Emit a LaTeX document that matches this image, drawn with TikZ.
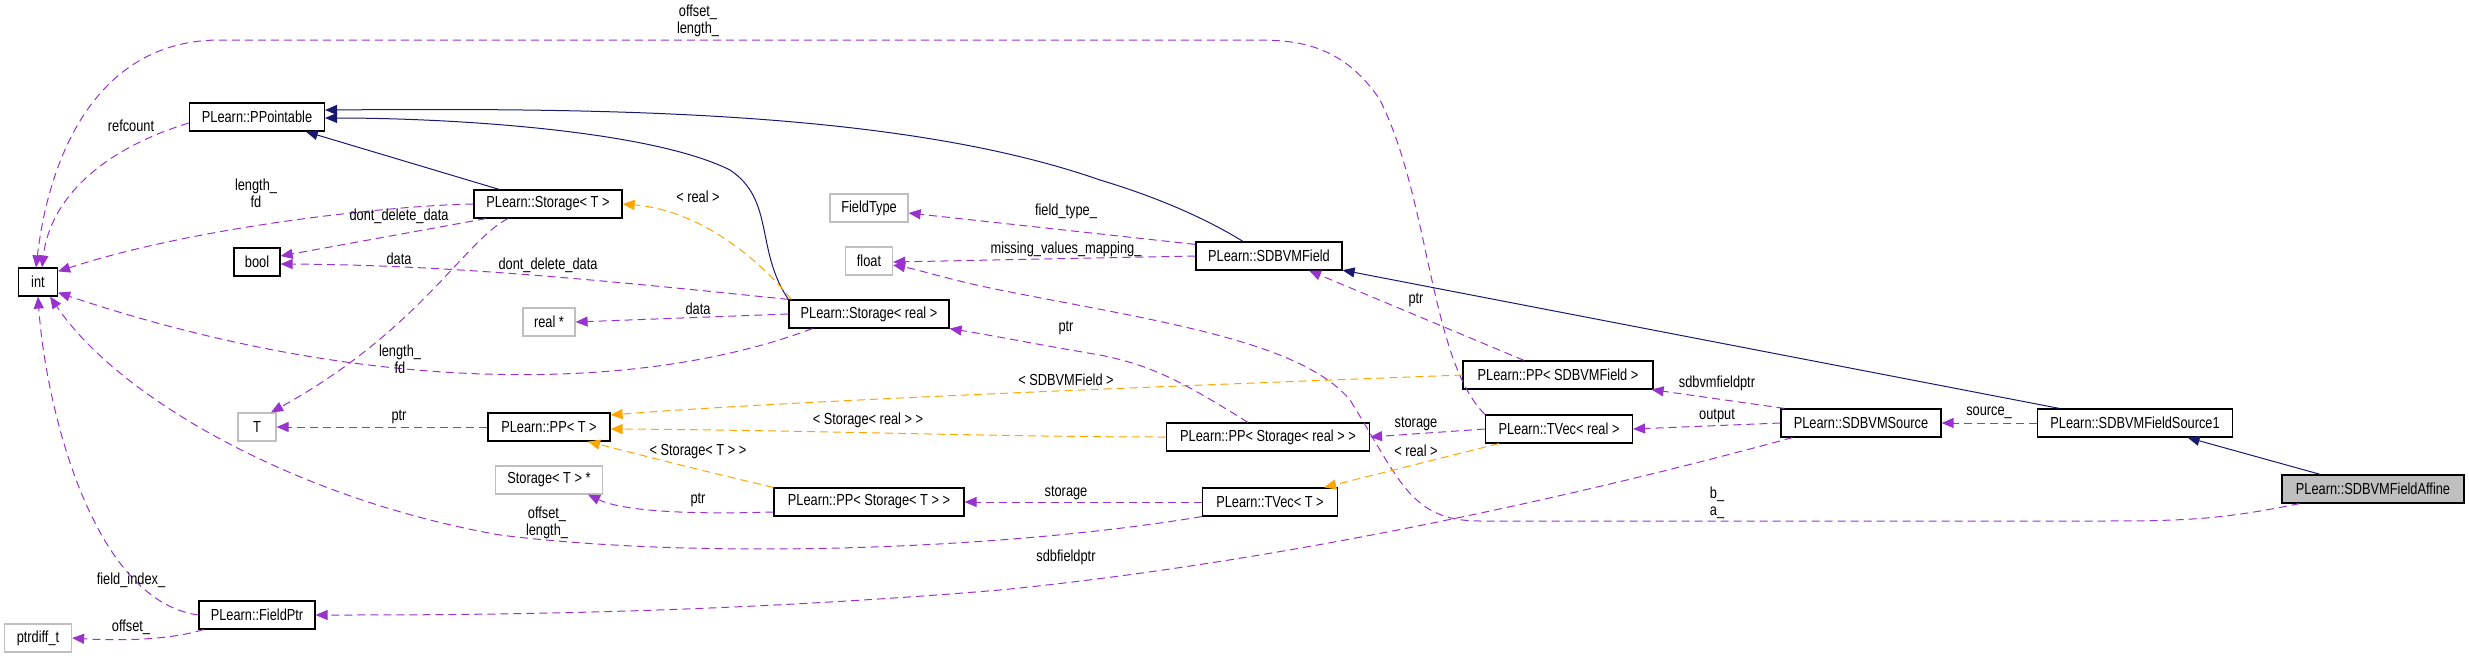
\documentclass[tikz,border=0pt]{standalone}
\usepackage{fontspec}
\setmainfont{Liberation Sans}[FakeStretch=0.8]
\usetikzlibrary{arrows.meta}
\begin{document}
\begin{tikzpicture}[x=0.5pt,y=-0.5pt,
  every node/.style={font=\fontsize{8}{8.5}\selectfont, inner sep=1pt},
  box/.style={draw=black, line width=0.6pt, minimum height=14pt, inner sep=1pt, fill=white},
  gbox/.style={box, draw=black!25},
  lab/.style={align=center},
  inh/.style={draw={rgb,255:red,25;green,25;blue,112}, line width=0.5pt, -{Triangle[length=6pt,width=5pt]}},
  use/.style={draw={rgb,255:red,154;green,50;blue,205}, line width=0.5pt, dash pattern=on 4pt off 2.5pt, -{Triangle[length=6pt,width=5pt]}},
  tpl/.style={draw={rgb,255:red,255;green,165;blue,0}, line width=0.5pt, dash pattern=on 4pt off 2.5pt, -{Triangle[length=6pt,width=5pt]}}]
\useasboundingbox (0,0) rectangle (2469,659);
% nodes
\node[box, minimum width=67.5pt] (pp) at (257,117) {PLearn::PPointable};
\node[box, minimum width=19.5pt] (int) at (38,282) {int};
\node[box, minimum width=74pt] (stT) at (548,204) {PLearn::Storage< T >};
\node[box, minimum width=23pt] (bool) at (257,262) {bool};
\node[gbox, minimum width=26pt] (realp) at (549,322) {real *};
\node[gbox, minimum width=19pt] (T) at (257,427) {T};
\node[box, minimum width=61pt] (ppT) at (549,427) {PLearn::PP< T >};
\node[gbox, minimum width=53.5pt] (stTp) at (549,480) {Storage< T > *};
\node[box, minimum width=58pt] (fptr) at (257,615) {PLearn::FieldPtr};
\node[gbox, minimum width=33.5pt] (ptrd) at (38,638) {ptrdiff\_t};
\node[gbox, minimum width=39pt] (ftype) at (869,208) {FieldType};
\node[gbox, minimum width=23.5pt] (float) at (869,261) {float};
\node[box, minimum width=73pt] (sfield) at (1269,256) {PLearn::SDBVMField};
\node[box, minimum width=80pt] (streal) at (869,314) {PLearn::Storage< real >};
\node[box, minimum width=95pt] (ppsf) at (1558,375) {PLearn::PP< SDBVMField >};
\node[box, minimum width=101.5pt] (ppsr) at (1268,437) {PLearn::PP< Storage< real > >};
\node[box, minimum width=73.5pt] (tvr) at (1559,429) {PLearn::TVec< real >};
\node[box, minimum width=95pt] (ppst) at (869,502) {PLearn::PP< Storage< T > >};
\node[box, minimum width=67.5pt] (tvT) at (1270,502) {PLearn::TVec< T >};
\node[box, minimum width=80pt] (src) at (1861,423) {PLearn::SDBVMSource};
\node[box, minimum width=97.5pt] (fs1) at (2135,423) {PLearn::SDBVMFieldSource1};
\node[box, minimum width=91pt, fill=black!25] (aff) at (2373,489) {PLearn::SDBVMFieldAffine};
% inheritance
\draw[inh] (stT) -- (pp);
\draw[inh] (streal.north west) .. controls (755,250) and (775,200) .. (730,170) .. controls (650,130) and (450,118) .. ([yshift=-0.5pt]pp.east);
\draw[inh] ([xshift=-13pt]sfield.north) .. controls (1200,215) and (1150,195) .. (1100,180) .. controls (900,110) and (600,108) .. ([yshift=3.5pt]pp.east);
\draw[inh] (fs1) -- (sfield);
\draw[inh] (aff) -- (fs1);
% usage
\draw[use] (stT.west) .. controls (400,205) and (200,225) .. ([yshift=-2pt]int.north east);
\draw[use] ([xshift=-31pt]stT.south) -- ([yshift=3pt]bool.east);
\draw[use] ([xshift=-20pt]stT.south) .. controls (465,240) and (420,330) .. ([xshift=7pt]T.north);
\draw[use] (streal.north west) .. controls (600,280) and (450,265) .. ([yshift=-1pt]bool.east);
\draw[use] (streal.west) -- (realp.east);
\draw[use] ([xshift=12pt]streal.south west) .. controls (650,390) and (380,400) .. ([yshift=2pt]int.south east);
\draw[tpl] ([xshift=1.5pt]streal.north west) .. controls (760,260) and (700,210) .. (stT.east);
\draw[use] ([yshift=-3pt]pp.west) .. controls (100,150) and (50,200) .. ([xshift=2pt]int.north);
\draw[use] (tvr.north west) .. controls (1430,360) and (1430,200) .. (1380,100) .. controls (1340,40) and (1290,40) .. (1250,40) -- (220,40) .. controls (100,40) and (50,150) .. ([xshift=-1pt]int.north);
\draw[use] (ppT) -- (T);
\draw[tpl] (ppst.north west) .. controls (700,470) .. ([xshift=19.5pt]ppT.south);
\draw[use] ([yshift=-5pt]ppst.west) .. controls (680,515) and (620,510) .. ([xshift=19.5pt]stTp.south);
\draw[use] (tvT.south west) .. controls (1000,550) and (700,560) .. (500,535) .. controls (300,500) and (120,400) .. ([xshift=-4pt]int.south east);
\draw[use] (fptr.west) .. controls (90,600) and (45,400) .. (int.south);
\draw[use] ([xshift=2.5pt]fptr.south west) .. controls (170,640) and (120,641) .. (ptrd.east);
\draw[use] ([xshift=6pt]src.south west) .. controls (1600,490) and (1300,560) .. (1000,590) .. controls (700,615) and (450,615) .. (fptr.east);
\draw[tpl] (ppsf.west) .. controls (1200,385) and (800,400) .. ([yshift=6pt]ppT.east);
\draw[tpl] (ppsr.west) .. controls (1000,437) and (800,430) .. ([yshift=-1pt]ppT.east);
\draw[use] ([xshift=-10pt]ppsr.north) .. controls (1180,380) and (1150,365) .. (1100,355) .. controls (1040,345) and (990,335) .. (streal.south east);
\draw[use] ([xshift=-17pt]ppsf.north) -- ([xshift=20pt]sfield.south);
\draw[use] ([yshift=-1.5pt]sfield.north west) -- ([yshift=-2.5pt]ftype.east);
\draw[use] (sfield.west) -- ([yshift=-0.5pt]float.east);
\draw[use] ([xshift=9pt]aff.south west) .. controls (2220,520) and (2180,521) .. (2100,521) -- (1480,521) .. controls (1410,521) and (1400,480) .. (1350,400) .. controls (1300,340) and (1150,320) .. (1000,290) .. controls (950,280) and (920,270) .. ([yshift=-2pt]float.east);
\draw[use] (tvr.west) -- (ppsr.east);
\draw[tpl] ([xshift=7pt]tvr.south west) -- ([xshift=-7pt]tvT.north east);
\draw[use] (tvT.west) -- (ppst.east);
\draw[use] ([xshift=2pt]src.north west) -- ([xshift=-1pt]ppsf.south east);
\draw[use] (src.west) -- (tvr.east);
\draw[use] (fs1.west) -- (src.east);
% labels
\node[lab] (l1) at (698,21) {offset\_\\length\_};
\node[lab] (l2) at (131,126) {refcount};
\node[lab] (l3) at (256,193) {length\_\\fd};
\node[lab] (l4) at (399,216) {dont\_delete\_data};
\node[lab] (l5) at (399,259) {data};
\node[lab] (l6) at (548,265) {dont\_delete\_data};
\node[lab] (l7) at (698,309) {data};
\node[lab] (l8) at (400,359) {length\_\\fd};
\node[lab] (l9) at (698,197) {< real >};
\node[lab] (l10) at (399,417) {ptr};
\node[lab] (l11) at (698,452) {< Storage< T > >};
\node[lab] (l12) at (698,500) {ptr};
\node[lab] (l13) at (547,523) {offset\_\\length\_};
\node[lab] (l14) at (131,580) {field\_index\_};
\node[lab] (l15) at (131,627) {offset\_};
\node[lab] (l16) at (1066,211) {field\_type\_};
\node[lab] (l17) at (1066,249) {missing\_values\_mapping\_};
\node[lab] (l18) at (1066,328) {ptr};
\node[lab] (l19) at (1066,380) {< SDBVMField >};
\node[lab] (l20) at (868,420) {< Storage< real > >};
\node[lab] (l21) at (1416,300) {ptr};
\node[lab] (l22) at (1416,424) {storage};
\node[lab] (l23) at (1416,451) {< real >};
\node[lab] (l24) at (1066,493) {storage};
\node[lab] (l25) at (1066,557) {sdbfieldptr};
\node[lab] (l26) at (1717,383) {sdbvmfieldptr};
\node[lab] (l27) at (1717,416) {output};
\node[lab] (l28) at (1989,413) {source\_};
\node[lab] (l29) at (1717,503) {b\_\\a\_};
\end{tikzpicture}
\end{document}
